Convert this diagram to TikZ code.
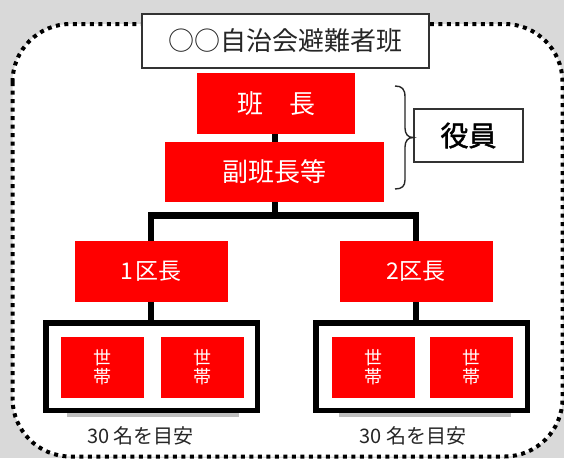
\documentclass[tikz,border=0pt]{standalone}
\usepackage{fontspec}
\newfontfamily\jp{Noto Sans CJK JP}
\newfontfamily\jpm[FakeBold=1.6]{Noto Sans CJK JP}
\definecolor{bggray}{RGB}{217,217,217}
\definecolor{shadowgray}{RGB}{191,191,191}
\definecolor{pured}{RGB}{255,0,0}
\begin{document}
\begin{tikzpicture}[x=1pt,y=-1pt,
  redbox/.style={fill=pured, draw=none, text=white, inner sep=0pt, minimum height=61pt},
  conn/.style={line width=6.5pt, draw=black},
  grp/.style={draw=black, line width=5.5pt, fill=white, inner sep=0pt, minimum width=211.5pt, minimum height=87.5pt},
  setai/.style={redbox, minimum width=83pt, align=center, font=\jp\fontsize{18}{19}\selectfont},
  kubox/.style={redbox, minimum width=153pt, font=\jp\fontsize{23}{25}\selectfont},
  lbl/.style={font=\jp\fontsize{20}{22}\selectfont, text=black!85, inner sep=0pt},
  frame/.style={draw=black!80, line width=2pt, fill=white, inner sep=0pt},
]
\useasboundingbox (0,0) rectangle (564,458);
\fill[bggray] (0,0) rectangle (564,458);
\draw[line width=4pt, dash pattern=on 4pt off 4.5pt, rounded corners=58pt, fill=white] (12.5,24) rectangle (562.5,456.5);

% title
\node[frame, minimum width=287pt, minimum height=54.5pt, font=\jp\fontsize{26}{28}\selectfont, text=black!85] (title) at (285.5,40.75) {○○自治会避難者班};

% officers
\node[redbox, minimum width=158.5pt, font=\jp\fontsize{26}{28}\selectfont] (hancho) at (276,103.5) {班　長};
\node[redbox, minimum width=219pt, minimum height=60pt, font=\jp\fontsize{26}{28}\selectfont] (fuku) at (274.5,172) {副班長等};
\node[frame, minimum width=109pt, minimum height=53pt, font=\jpm\fontsize{28}{30}\selectfont] (yaku) at (468.5,135.5) {役員};

% brace
\coordinate (btop) at (395,86);
\coordinate (bbot) at (395,189);
\draw[line width=1.4pt, black!85] (btop) .. controls (402,86) and (405,89) .. (405,97) -- (405,128)
  .. controls (405,134) and (408,137.5) .. (yaku.west |- 0,137.5)
  .. controls (408,137.5) and (405,141) .. (405,147) -- (405,180)
  .. controls (405,186) and (402,189) .. (bbot);

% district heads
\node[kubox] (ku1) at (151,271.5) {1\kern2pt 区長};
\node[kubox] (ku2) at (416,271.5) {2\kern1pt 区長};

% groups
\fill[shadowgray] (67,413) rectangle (239,417);
\fill[shadowgray] (339,413) rectangle (511,417);
\node[grp] (g1) at (151.5,366.5) {};
\node[grp] (g2) at (421.75,366.5) {};
\node[setai] (s1) at (102.5,367.5) {世\\帯};
\node[setai] (s2) at (202,367.5) {世\\帯};
\node[setai] (s3) at (373,367.5) {世\\帯};
\node[setai] (s4) at (471.5,367.5) {世\\帯};

\node[lbl] (n1) at (140.5,436) {30 名を目安};
\node[lbl] (n2) at (413,436) {30 名を目安};

% connectors
\coordinate (j) at (275,215.5);
\draw[conn] (fuku.north -| 275,0) -- (275,0 |- hancho.south);
\draw[conn] (fuku.south -| j) -- (j);
\draw[conn] (ku1.north) |- (j) -| (ku2.north);
\draw[conn] (ku1.south) -- (ku1.south |- g1.north);
\draw[conn] (ku2.south) -- (ku2.south |- g2.north);
\end{tikzpicture}
\end{document}
